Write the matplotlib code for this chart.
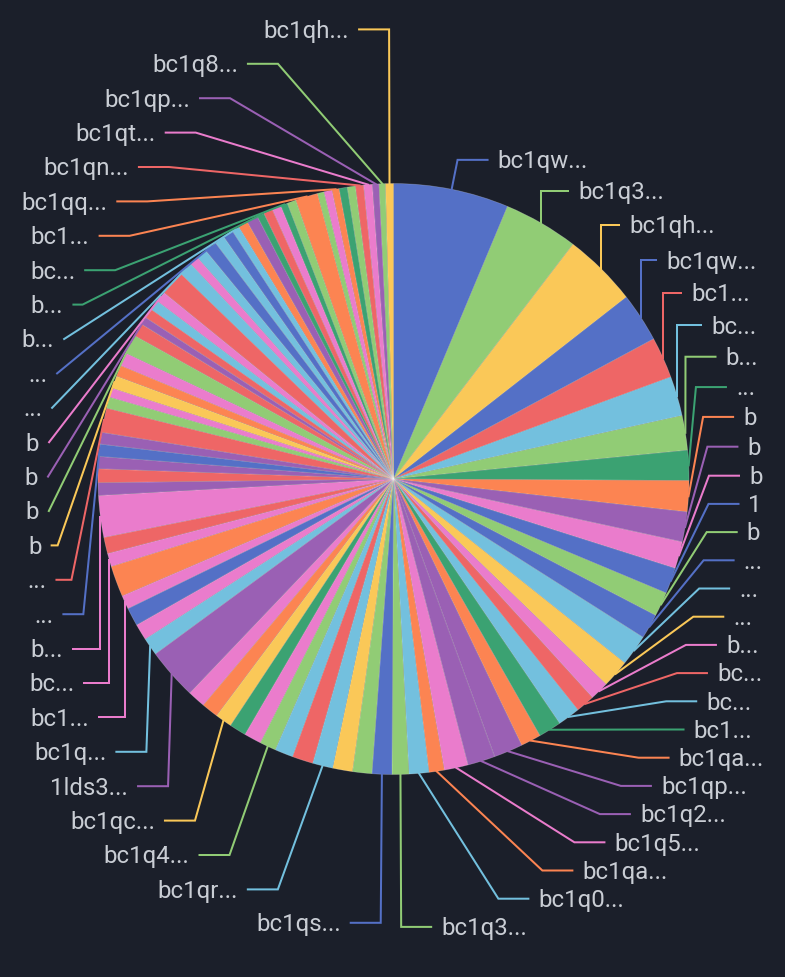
import math
import matplotlib
matplotlib.use("Agg")
import matplotlib.pyplot as plt

# ---------------- data (clockwise from 12 o'clock) ----------------
values = [
    22.7, 14.7, 14.6, 9.7, 8.1, 7.8, 6.8, 5.9, 6.1, 5.9, 5.3, 5.1, 4.8, 4.9, 6.1, 5.5,
    3.7, 3.7, 4.4, 4.5, 4.0, 5.7, 5.4, 4.7, 3.0, 3.9, 3.3,
    3.9, 3.8, 3.9, 4.0, 4.1, 3.6, 3.2, 3.4, 3.3, 3.3, 3.3, 3.5,
    10.1, 3.5, 3.2, 3.6, 2.7, 6.1, 2.6, 3.2, 8.2, 2.5, 2.7,
    2.4, 2.4, 2.3, 4.8, 2.2, 1.8, 2.5, 2.2, 2.6, 3.8,
    2.6, 1.5, 1.9, 2.0, 2.1, 4.9, 2.7, 1.8, 2.1, 2.4, 2.0, 2.0, 1.5,
    1.9, 2.2, 1.4, 1.8, 1.8, 1.35, 1.75, 4.4, 1.3, 1.6, 1.4, 1.6, 1.6, 1.6, 1.7, 1.3, 1.25, 1.55,
]

color_names = [
    "blue", "lgreen", "yellow", "blue", "red", "lblue", "lgreen", "dgreen", "orange", "purple",
    "pink", "blue", "lgreen", "blue", "lblue", "yellow", "pink", "red", "lblue", "dgreen",
    "orange", "purple", "purple", "pink", "orange", "lblue", "lgreen",
    "blue", "lgreen", "yellow", "lblue", "red", "lblue", "lgreen", "pink", "dgreen", "yellow",
    "orange", "pink",
    "purple", "lblue", "pink", "blue", "pink", "orange", "pink", "red", "pink", "purple", "red",
    "purple", "blue", "purple", "red", "lgreen", "pink", "yellow", "orange", "pink", "lgreen",
    "red", "purple", "red", "lblue", "pink", "red", "lblue", "pink", "lblue", "blue", "lblue",
    "blue", "lblue",
    "orange", "purple", "dgreen", "red", "pink", "dgreen", "lgreen", "orange", "lgreen", "pink",
    "orange", "dgreen", "lgreen", "red", "pink", "purple", "lgreen", "yellow",
]

# displayed (already truncated) label texts; None = label hidden in the reference
labels = [
    "bc1qw...", "bc1q3...", "bc1qh...", "bc1qw...", "bc1...", "bc...", "b...", "...", "b", "b",
    "b", "1", "b", "...", "...", "...", "b...", "bc...", "bc...", "bc1...",
    "bc1qa...", "bc1qp...", "bc1q2...", "bc1q5...", "bc1qa...", "bc1q0...", "bc1q3...",
    "bc1qs...", None, None, "bc1qr...", None, None, "bc1q4...", None, None, "bc1qc...",
    None, None,
    "1lds3...", "bc1q...", None, None, "bc1...", None, "bc...", None, "b...", None, None,
    None, "...", None, "...", None, None, "b", None, None, "b",
    None, "b", None, None, "b", None, "...", None, None, "...", None,
    None, "b...",
    None, None, "b...", None, None, "bc...", None, "bc1...", None, None,
    "bc1qq...", None, None, "bc1qn...", "bc1qt...", "bc1qp...", "bc1q8...", "bc1qh...",
]

palette = {
    "blue": "#5470c6", "lgreen": "#91cc75", "yellow": "#fac858", "red": "#ee6666",
    "lblue": "#73c0de", "dgreen": "#3ba272", "orange": "#fc8452", "purple": "#9a60b4",
    "pink": "#ea7ccc",
}

# ---------------- geometry / style ----------------
W, H = 785, 977
BG = "#1b1f2a"
TEXT_C = "#c9cdd4"
S = 2.0                       # device pixel ratio of the screenshot
CX, CY, R = 393.5, 479.0, 295.5
LEN1, LEN2, LDIST = 15 * S, 15 * S, 5 * S
LINE_H = 12 * S
MARGIN = 2.1 * S
VIEW_TOP, VIEW_BOTTOM = 0.0, 941.0
FONT_PX = 12 * S
SLOT = {1: LINE_H + MARGIN, -1: 34.4}   # vertical room per shown label on each side

# ---------------- ECharts-like outer label layout (y grows downward) ----------------
total = float(sum(values))
items = []
acc = 0.0
for i, v in enumerate(values):
    a0 = acc / total * 360.0
    acc += v
    a1 = acc / total * 360.0
    if labels[i] is None:
        continue
    mid = math.radians((a0 + a1) / 2.0)
    nx, ny = math.sin(mid), -math.cos(mid)
    x1, y1 = CX + R * nx, CY + R * ny
    x2, y2 = x1 + nx * LEN1, y1 + ny * LEN1
    d = -1 if nx < 0 else 1
    x3 = x2 + d * LEN2
    rh = SLOT[d]
    items.append(dict(i=i, nx=nx, ny=ny, dir=d,
                      pts=[[x1, y1], [x2, y2], [x3, y2]],
                      lx=x3 + d * LDIST, ly=y2,
                      ry=y2 - rh / 2, rh=rh))


def shift_layout(lst, min_b, max_b):
    n = len(lst)
    if n < 2:
        return False
    lst.sort(key=lambda it: it["ry"])
    state = {"adj": False}
    last = 0.0
    for it in lst:
        delta = it["ry"] - last
        if delta < 0:
            it["ry"] -= delta
            it["ly"] -= delta
            state["adj"] = True
        last = it["ry"] + it["rh"]
    first, lastit = lst[0], lst[-1]

    def shift_list(dd, s, e):
        if dd != 0:
            state["adj"] = True
        for k in range(s, e):
            lst[k]["ry"] += dd
            lst[k]["ly"] += dd

    def gaps_now():
        return first["ry"] - min_b, max_b - lastit["ry"] - lastit["rh"]

    def squeeze_gaps(delta, maxp):
        gaps = []
        tot = 0.0
        for k in range(1, n):
            p = lst[k - 1]
            g = max(lst[k]["ry"] - p["ry"] - p["rh"], 0.0)
            gaps.append(g)
            tot += g
        if not tot:
            return
        pct = min(abs(delta) / tot, maxp)
        if delta > 0:
            for k in range(n - 1):
                shift_list(gaps[k] * pct, 0, k + 1)
        else:
            for k in range(n - 1, 0, -1):
                shift_list(-gaps[k - 1] * pct, k, n)

    def take_bounds_gap(this_g, other_g, move_dir):
        if this_g < 0:
            mv = min(other_g, -this_g)
            if mv > 0:
                shift_list(mv * move_dir, 0, n)
                rem = mv + this_g
                if rem < 0:
                    squeeze_gaps(-rem * move_dir, 1)
            else:
                squeeze_gaps(-this_g * move_dir, 1)

    def squeeze_bailout(delta):
        dd = -1 if delta < 0 else 1
        delta = abs(delta)
        mv = math.ceil(delta / (n - 1))
        for k in range(n - 1):
            if dd > 0:
                shift_list(mv, 0, k + 1)
            else:
                shift_list(-mv, n - k - 1, n)
            delta -= mv
            if delta <= 0:
                return

    mn, mx = gaps_now()
    if mn < 0:
        squeeze_gaps(-mn, 0.8)
    if mx < 0:
        squeeze_gaps(mx, 0.8)
    mn, mx = gaps_now()
    take_bounds_gap(mn, mx, 1)
    take_bounds_gap(mx, mn, -1)
    mn, mx = gaps_now()
    if mn < 0:
        squeeze_bailout(-mn)
    if mx < 0:
        squeeze_bailout(mx)
    return state["adj"]


def recalc_x(lst, d):
    top = {"list": [], "maxY": 0.0, "rB": None}
    bot = {"list": [], "maxY": 0.0, "rB": None}
    rA = R + LEN1
    for it in lst:
        semi = bot if it["ly"] > CY else top
        dy = abs(it["ly"] - CY)
        if dy >= semi["maxY"]:
            dx = it["lx"] - CX - LEN2 * d
            rB = math.sqrt(dy * dy / (1 - dx * dx / rA / rA)) if abs(dx) < rA else rA
            semi["rB"] = rB
            semi["maxY"] = dy
        semi["list"].append(it)
    for semi in (top, bot):
        rB = semi["rB"]
        for it in semi["list"]:
            dy = abs(it["ly"] - CY)
            f = max(1 - abs(dy * dy / (rB * rB)), 0.0)
            dx = math.sqrt(f * rA * rA)
            it["lx"] = CX + (dx + LEN2) * d


right = [it for it in items if it["dir"] > 0]
left = [it for it in items if it["dir"] < 0]
for side, d in ((right, 1), (left, -1)):
    if shift_layout(side, VIEW_TOP, VIEW_BOTTOM):
        recalc_x(side, d)

for it in items:
    p = it["pts"]
    dist = p[1][0] - p[2][0]
    p[2][0] = it["lx"] - it["dir"] * LDIST
    p[1][0] = p[2][0] + dist
    p[1][1] = p[2][1] = it["ly"]


def project(x1, y1, x2, y2, x, y):
    dx, dy = x2 - x1, y2 - y1
    L = math.hypot(dx, dy)
    dx, dy = dx / L, dy / L
    t = (x - x1) * dx + (y - y1) * dy
    ox, oy = x1 + dx * t, y1 + dy * t
    return math.hypot(ox - x, oy - y), [ox, oy]


def limit_turn_angle(p, min_turn_deg=90.0):
    a = math.radians(min_turn_deg)
    v1 = (p[0][0] - p[1][0], p[0][1] - p[1][1])
    v2 = (p[2][0] - p[1][0], p[2][1] - p[1][1])
    l1, l2 = math.hypot(*v1), math.hypot(*v2)
    if l1 < 1e-3 or l2 < 1e-3:
        return
    u1 = (v1[0] / l1, v1[1] / l1)
    u2 = (v2[0] / l2, v2[1] / l2)
    if math.cos(a) < u1[0] * u2[0] + u1[1] * u2[1]:
        dd, q = project(p[1][0], p[1][1], p[2][0], p[2][1], p[0][0], p[0][1])
        q[0] += u2[0] * dd / math.tan(math.pi - a)
        q[1] += u2[1] * dd / math.tan(math.pi - a)
        if p[2][0] != p[1][0]:
            t = (q[0] - p[1][0]) / (p[2][0] - p[1][0])
        else:
            t = (q[1] - p[1][1]) / (p[2][1] - p[1][1])
        if t < 0:
            q = list(p[1])
        elif t > 1:
            q = list(p[2])
        p[1] = q


def limit_surface_angle(p, normal, max_deg=90.0):
    a = math.radians(max_deg)
    v1 = (p[1][0] - p[0][0], p[1][1] - p[0][1])
    v2 = (p[2][0] - p[1][0], p[2][1] - p[1][1])
    l1, l2 = math.hypot(*v1), math.hypot(*v2)
    if l1 < 1e-3 or l2 < 1e-3:
        return
    u1 = (v1[0] / l1, v1[1] / l1)
    u2 = (v2[0] / l2, v2[1] / l2)
    if u1[0] * normal[0] + u1[1] * normal[1] < math.cos(a):
        dd, q = project(p[1][0], p[1][1], p[2][0], p[2][1], p[0][0], p[0][1])
        ang2 = math.acos(max(-1.0, min(1.0, u2[0] * normal[0] + u2[1] * normal[1])))
        new_a = math.pi / 2 + ang2 - a
        if new_a >= math.pi / 2:
            q = list(p[2])
        else:
            q[0] += u2[0] * dd / math.tan(math.pi / 2 - new_a)
            q[1] += u2[1] * dd / math.tan(math.pi / 2 - new_a)
            if p[2][0] != p[1][0]:
                t = (q[0] - p[1][0]) / (p[2][0] - p[1][0])
            else:
                t = (q[1] - p[1][1]) / (p[2][1] - p[1][1])
            if t < 0:
                q = list(p[1])
            elif t > 1:
                q = list(p[2])
        p[1] = q


for it in items:
    limit_turn_angle(it["pts"], 90.0)
    limit_surface_angle(it["pts"], (it["nx"], it["ny"]), 90.0)

# ---------------- drawing ----------------
fig = plt.figure(figsize=(W / 100, H / 100), dpi=100, facecolor=BG)
ax = fig.add_axes([0, 0, 1, 1])
ax.set_facecolor(BG)

colors = [palette[c] for c in color_names]
ax.pie(values, colors=colors, startangle=90, counterclock=False,
       center=(CX, H - CY), radius=R,
       wedgeprops=dict(linewidth=0.5, edgecolor=(1, 1, 1, 0.25)))

for it in items:
    txt = labels[it["i"]]
    col = colors[it["i"]]
    xs = [q[0] for q in it["pts"]]
    ys = [H - q[1] for q in it["pts"]]
    ax.plot(xs, ys, color=col, lw=1.45, solid_joinstyle="miter", zorder=3)
    ax.text(it["lx"], H - (it["ly"] + 0.35 * FONT_PX), txt,
            ha="left" if it["dir"] > 0 else "right", va="baseline",
            color=TEXT_C, fontsize=FONT_PX * 0.72, family=["Roboto", "DejaVu Sans"],
            zorder=4)

ax.set_xlim(0, W)
ax.set_ylim(0, H)
ax.set_aspect("equal")
ax.axis("off")
fig.savefig("out.png", dpi=100, facecolor=BG)
